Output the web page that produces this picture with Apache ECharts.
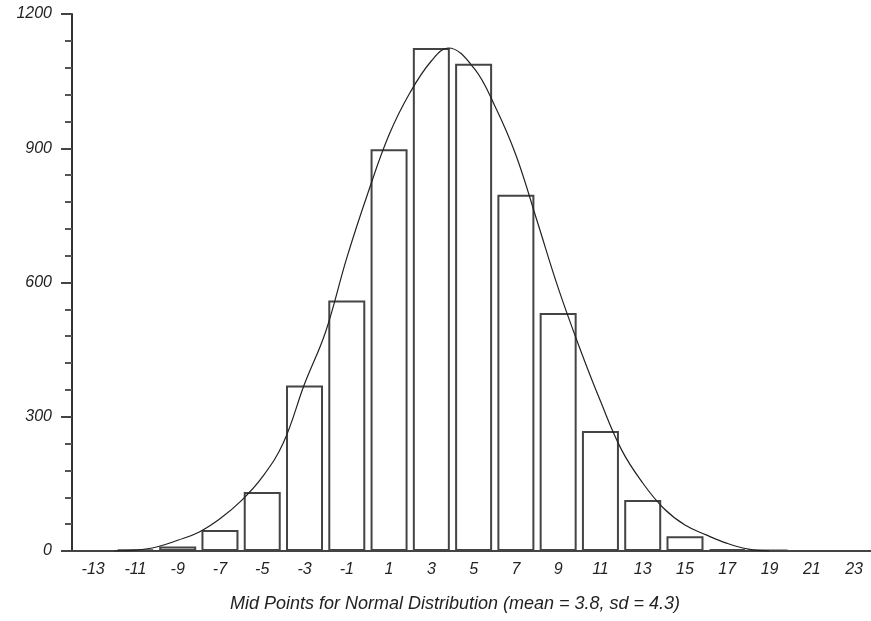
<!DOCTYPE html>
<html>
<head>
<meta charset="utf-8">
<script src="https://cdn.jsdelivr.net/npm/echarts@6/dist/echarts.min.js"></script>
<style>
  html, body { margin: 0; background: #fff; }
  #chart { width: 871px; height: 621px; }
</style>
</head>
<body>
<div id="chart"></div>
<script>
// histogram bins (mid points) and counts
const midPoints = [-11, -9, -7, -5, -3, -1, 1, 3, 5, 7, 9, 11, 13, 15, 17, 19]
const counts = [3, 10, 47, 132, 370, 560, 898, 1124, 1089, 796, 532, 268, 114, 33, 4, 2]

// fitted curve
const curveX = [-12, -11, -10, -9, -8, -7, -6, -5, -4, -3, -2, -1, 0, 1, 2, 3, 3.8, 5, 6, 7, 8, 9, 10, 11, 12, 13, 14, 15, 16, 17, 18, 19]
const curveY = [0, 2, 9, 24, 42, 72, 112, 165, 242, 373, 490, 655, 800, 930, 1025, 1095, 1124, 1080, 995, 885, 738, 588, 456, 335, 226, 152, 95, 58, 36, 17, 4, 0]

const xTickLabels = [-13, -11, -9, -7, -5, -3, -1, 1, 3, 5, 7, 9, 11, 13, 15, 17, 19, 21, 23]

const labelFont = {
  fontFamily: '"Liberation Sans", Arial, sans-serif',
  fontStyle: 'italic',
  fontSize: 16,
  color: '#222'
}

const myChart = echarts.init(document.getElementById('chart'))
myChart.setOption({
  animation: false,
  grid: {
    left: 72,
    right: 0,
    top: 14,
    bottom: 70
  },
  xAxis: {
    type: 'value',
    min: -14,
    max: 23.8,
    interval: 1,
    splitLine: { show: false },
    axisTick: { show: false },
    axisLine: { lineStyle: { color: '#444', width: 2 } },
    axisLabel: {
      ...labelFont,
      margin: 11,
      showMaxLabel: false,
      formatter: v => xTickLabels.includes(v) ? String(v) : ''
    },
    name: 'Mid Points for Normal Distribution (mean = 3.8, sd = 4.3)',
    nameLocation: 'middle',
    nameGap: 44,
    nameTextStyle: {
      ...labelFont,
      fontSize: 18,
      padding: [0, 33, 0, 0]
    }
  },
  yAxis: {
    type: 'value',
    min: 0,
    max: 1200,
    interval: 300,
    splitLine: { show: false },
    axisLine: { show: true, onZero: false, lineStyle: { color: '#333', width: 2 } },
    axisTick: { show: true, length: 11, lineStyle: { color: '#444', width: 2 } },
    minorTick: { show: true, splitNumber: 5, length: 7, lineStyle: { color: '#555', width: 2 } },
    axisLabel: { ...labelFont, margin: 20, formatter: v => String(v) }
  },
  series: [{
    type: 'bar',
    data: midPoints.map((x, i) => [x, counts[i]]),
    barWidth: 37,
    itemStyle: { color: '#fff', borderColor: '#444', borderWidth: 2 },
    z: 2
  }, {
    type: 'line',
    data: curveX.map((x, i) => [x, curveY[i]]),
    smooth: 0.4,
    symbol: 'none',
    lineStyle: { color: '#222', width: 1.2 },
    z: 3
  }]
})
</script>
</body>
</html>
